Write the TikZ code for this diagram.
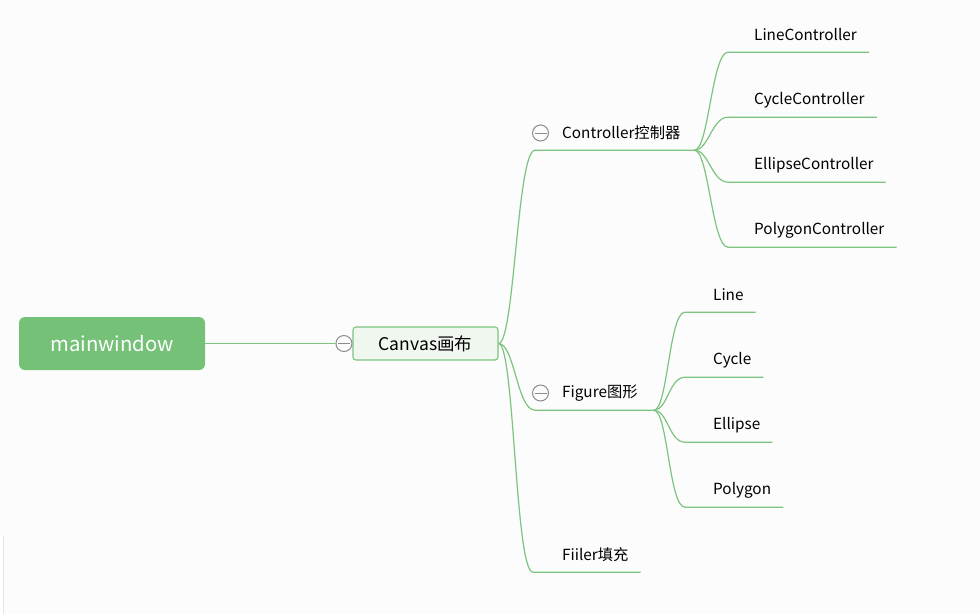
\documentclass[tikz,border=0pt]{standalone}
\usepackage{fontspec}
\setmainfont{Noto Sans CJK SC}
\usetikzlibrary{positioning}
\definecolor{mapgreen}{HTML}{7CC47F}
\definecolor{rootgreen}{HTML}{75C178}
\definecolor{canvasfill}{HTML}{F0F7EF}
\definecolor{bggray}{HTML}{FCFCFC}
\tikzset{
  topic/.style={anchor=west, inner xsep=0pt, minimum height=34pt, font=\fontsize{15.3}{18}\selectfont},
  fold/.style={circle, draw=black!45, line width=1pt, minimum size=16pt, inner sep=0pt,
    path picture={\draw[black!45, line width=1pt] ([xshift=-6pt]path picture bounding box.center) -- ([xshift=6pt]path picture bounding box.center);}},
  branch/.style={draw=mapgreen, line width=1.2pt},
}

\begin{document}
\begin{tikzpicture}[x=1pt,y=-1pt]
  \fill[bggray] (0,0) rectangle (980,614);
  \fill[white] (0,536) rectangle (3.5,614);
  \draw[black!10] (3.5,536) -- (3.5,614);

  \node[fill=rootgreen, rounded corners=6pt, minimum width=186pt, minimum height=53pt, text=white, font=\fontsize{20.3}{24}\selectfont] (mw) at (112,343.5) {mainwindow};
  \node[fill=canvasfill, draw=mapgreen, line width=1.1pt, rounded corners=3pt, minimum width=145pt, minimum height=33pt, font=\fontsize{17.5}{20}\selectfont] (cv) at (425.5,343.5) {Canvas画布};
  \node[fold, left=0pt of cv] (cvfold) {};
  \draw[branch] (mw) -- (cvfold);

  % second level
  \node[topic] (ctl) at (562,133) {Controller控制器};
  \node[topic] (fig) at (562,393) {Figure图形};
  \node[topic] (fil) at (562,555) {Fiiler填充};
  \node[fold, left=13pt of ctl] (ctlfold) {};
  \node[fold, left=13pt of fig] (figfold) {};
  \coordinate (ctlend) at ([xshift=14pt]ctl.south east);
  \coordinate (figend) at ([xshift=16pt]fig.south east);
  \draw[branch] (cv.east) .. controls +(16,0) and +(-18,0) .. ([xshift=-27pt]ctl.south west) -- (ctlend);
  \draw[branch] (cv.east) .. controls +(16,0) and +(-18,0) .. ([xshift=-27pt]fig.south west) -- (figend);
  \draw[branch] (cv.east) .. controls +(16,0) and +(-18,0) .. ([xshift=-29pt]fil.south west) -- ([xshift=12pt]fil.south east);

  % controllers
  \node[topic] (lc) at (754,35) {LineController};
  \node[topic] (cc) at (754,100) {CycleController};
  \node[topic] (ec) at (754,165) {EllipseController};
  \node[topic] (pc) at (754,230) {PolygonController};
  \draw[branch] (ctlend) .. controls +(14,0) and +(-16,0) .. ([xshift=-26pt]lc.south west) -- ([xshift=12pt]lc.south east);
  \draw[branch] (ctlend) .. controls +(14,0) and +(-16,0) .. ([xshift=-26pt]cc.south west) -- ([xshift=12pt]cc.south east);
  \draw[branch] (ctlend) .. controls +(14,0) and +(-16,0) .. ([xshift=-26pt]ec.south west) -- ([xshift=12pt]ec.south east);
  \draw[branch] (ctlend) .. controls +(14,0) and +(-16,0) .. ([xshift=-26pt]pc.south west) -- ([xshift=12pt]pc.south east);

  % figures
  \node[topic] (ln) at (713,295) {Line};
  \node[topic] (cy) at (713,360) {Cycle};
  \node[topic] (el) at (713,425) {Ellipse};
  \node[topic] (pg) at (713,490) {Polygon};
  \draw[branch] (figend) .. controls +(14,0) and +(-16,0) .. ([xshift=-28pt]ln.south west) -- ([xshift=12pt]ln.south east);
  \draw[branch] (figend) .. controls +(14,0) and +(-16,0) .. ([xshift=-28pt]cy.south west) -- ([xshift=12pt]cy.south east);
  \draw[branch] (figend) .. controls +(14,0) and +(-16,0) .. ([xshift=-28pt]el.south west) -- ([xshift=12pt]el.south east);
  \draw[branch] (figend) .. controls +(14,0) and +(-16,0) .. ([xshift=-28pt]pg.south west) -- ([xshift=12pt]pg.south east);
\end{tikzpicture}
\end{document}
